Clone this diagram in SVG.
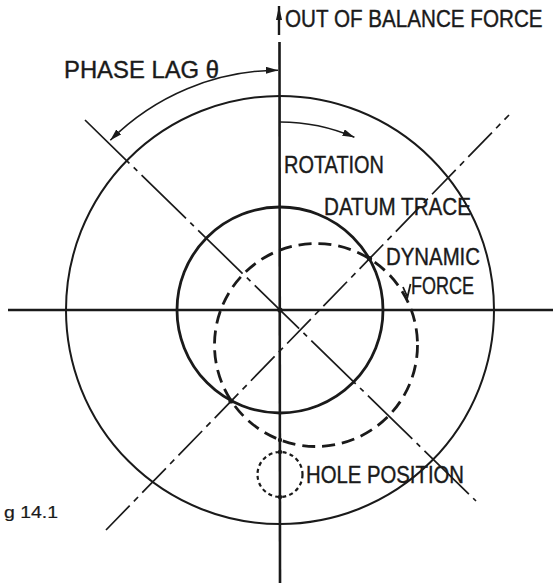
<svg xmlns="http://www.w3.org/2000/svg" width="553" height="584" viewBox="0 0 553 584">
<style>
  .t { font-family: "Liberation Sans", "DejaVu Sans", sans-serif; font-size: 24px; fill: #1a1a1a; stroke: #1a1a1a; stroke-width: 0.4; }
  .s { fill: none; stroke: #1a1a1a; stroke-linecap: butt; }
  .axis { stroke-width: 2.6; }
  .chainA { stroke-width: 1.7; stroke-dasharray: 62 6 5 6; }
  .chainB { stroke-width: 1.7; stroke-dasharray: 34 6 6 6; }
  .dot { fill: #1a1a1a; }
</style>
<defs>
  <marker id="arr" viewBox="0 0 12 7" refX="12" refY="3.5" markerWidth="12" markerHeight="7" markerUnits="userSpaceOnUse" orient="auto-start-reverse">
    <path d="M0,0 L12,3.5 L0,7 z" fill="#1a1a1a"/>
  </marker>
  <marker id="arrUp" viewBox="0 0 14 6" refX="14" refY="3" markerWidth="14" markerHeight="6" markerUnits="userSpaceOnUse" orient="auto">
    <path d="M0,0 L14,3 L0,6 z" fill="#1a1a1a"/>
  </marker>
</defs>
<rect width="553" height="584" fill="#ffffff"/>

<g id="circles">
  <circle id="outer-circle" class="s" cx="280" cy="310" r="214" stroke-width="2"/>
  <circle id="datum-trace" class="s" cx="280" cy="310" r="103" stroke-width="2.8"/>
  <circle id="dynamic-circle" class="s" cx="316" cy="345" r="101.5" stroke-width="2.8" stroke-dasharray="13 7"/>
  <circle id="hole" class="s" cx="280" cy="474.5" r="22.5" stroke-width="2.2" stroke-dasharray="4 3.2"/>
</g>

<g id="connectors">
  <line class="s axis" x1="8" y1="310" x2="553" y2="310"/>
  <line class="s axis" x1="279.5" y1="42" x2="280" y2="583"/>
  <line class="s" x1="279" y1="35" x2="279" y2="6" stroke-width="2.4" marker-end="url(#arrUp)"/>
  <line class="s chainA" x1="85" y1="120" x2="476" y2="501"/>
  <line class="s chainB" x1="106" y1="530" x2="509" y2="115"/>
  <path class="s" d="M 278 70.2 A 240 240 0 0 0 110.3 140.3" stroke-width="1.5" marker-start="url(#arr)" marker-end="url(#arr)"/>
  <path class="s" d="M 280 122 A 188 188 0 0 1 354.4 137.3" stroke-width="1.5" marker-end="url(#arr)"/>
  <polyline class="s" points="403,287 407.5,297 410.5,284" stroke-width="1.8"/>
  <circle class="dot" cx="369.5" cy="258.5" r="2.6"/>
  <circle class="dot" cx="231" cy="401" r="2.6"/>
  <circle class="dot" cx="280" cy="440" r="2.2"/>
  <circle class="dot" cx="280" cy="452" r="2.2"/>
  <circle class="dot" cx="280" cy="497" r="2.2"/>
  <circle class="dot" cx="280" cy="310" r="2.6"/>
</g>

<g id="labels">
  <text id="lbl-force" class="t" transform="translate(285,27) scale(0.86,1)" x="0" y="0">OUT OF BALANCE FORCE</text>
  <text id="lbl-phase" class="t" x="64" y="78" textLength="155" lengthAdjust="spacingAndGlyphs">PHASE LAG θ</text>
  <text id="lbl-rotation" class="t" x="284" y="173" textLength="100" lengthAdjust="spacingAndGlyphs">ROTATION</text>
  <text id="lbl-datum" class="t" x="324" y="215" textLength="147" lengthAdjust="spacingAndGlyphs">DATUM TRACE</text>
  <text id="lbl-dynamic" class="t" x="386" y="265" textLength="94" lengthAdjust="spacingAndGlyphs">DYNAMIC</text>
  <text id="lbl-dynforce" class="t" x="411" y="294" textLength="63" lengthAdjust="spacingAndGlyphs">FORCE</text>
  <text id="lbl-hole" class="t" x="306" y="483" textLength="158" lengthAdjust="spacingAndGlyphs">HOLE POSITION</text>
  <text id="lbl-fig" class="t" x="4" y="518" style="font-size:16px;stroke-width:0.2" textLength="54" lengthAdjust="spacingAndGlyphs">g 14.1</text>
</g>
</svg>
